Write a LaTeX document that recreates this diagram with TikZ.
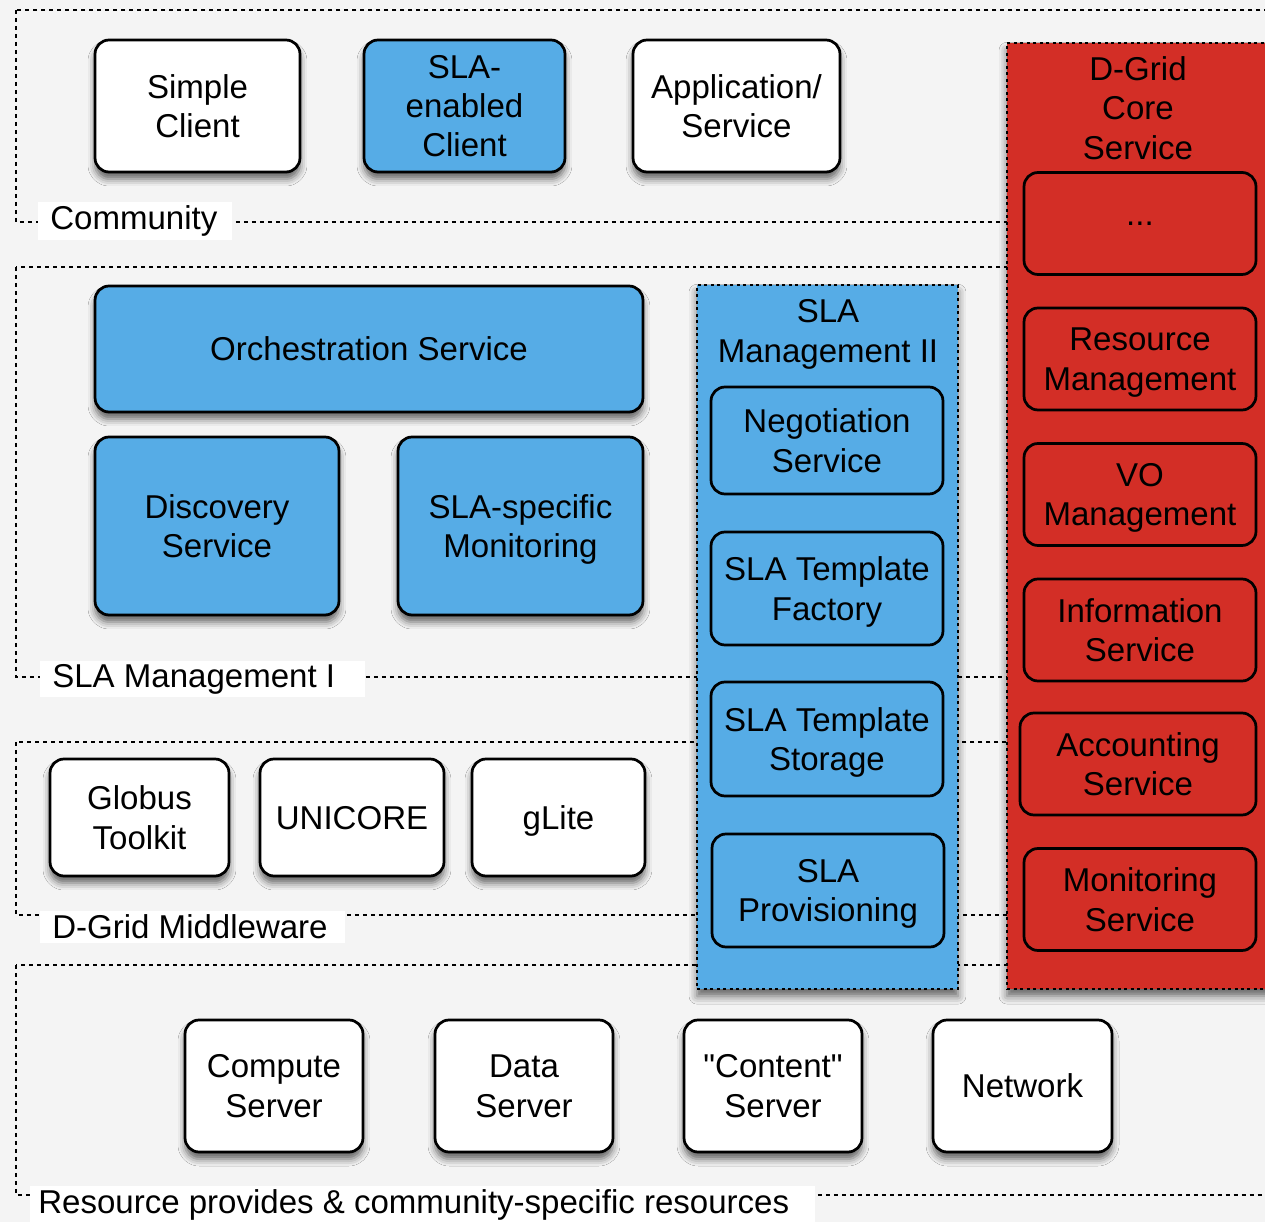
\documentclass[tikz,border=0pt]{standalone}
\usepackage{fontspec}
\setmainfont{Liberation Sans}
\usepackage{tikz}
\usetikzlibrary{shadows.blur}
\definecolor{slablue}{RGB}{86,172,230}
\definecolor{gridred}{RGB}{211,46,38}
\definecolor{bggray}{RGB}{244,244,244}

\tikzset{
    comp/.style={draw, rounded corners=0.28cm, line width=0.055cm, align=center,
        font=\fontsize{18.8}{22.4}\selectfont, inner sep=0pt, text depth=0pt},
    compshadow/.style={comp, blur shadow={shadow xshift=0pt, shadow yshift=-0.14cm,
        shadow blur radius=0.14cm, shadow opacity=60}},
    layer/.style={draw, line width=0.05cm, dash pattern=on 0.08cm off 0.08cm},
    layerlabel/.style={fill=white, anchor=west, inner xsep=0.24cm, inner ysep=0.07cm,
        font=\fontsize{18.8}{22.4}\selectfont},
    column/.style={draw, line width=0.05cm, dash pattern=on 0.06cm off 0.07cm,
        align=center, anchor=north, inner sep=0pt,
        blur shadow={shadow xshift=0pt, shadow yshift=-0.14cm,
        shadow blur radius=0.16cm, shadow opacity=60}},
    coltitle/.style={align=center, font=\fontsize{18.8}{22.4}\selectfont,
        inner sep=0pt, text depth=0pt}
}

\begin{document}
\begin{tikzpicture}[x=0.02cm, y=-0.02cm]
    % page and background
    \fill[bggray] (0,0) rectangle (1265,1222);
    \useasboundingbox (0,0) rectangle (1265,1222);

    % layers
    \draw[layer] (16,10) rectangle (1290,222);
    \draw[layer] (16,267) rectangle (1290,677);
    \draw[layer] (16,742) rectangle (1290,915);
    \draw[layer] (16,965) rectangle (1290,1195);

    \node[layerlabel] (lcommunity) at (38,221) {Community\hspace{0.06cm}\mbox{}};
    \node[layerlabel] (lslaone) at (40,679) {SLA Management I\hspace{0.35cm}\mbox{}};
    \node[layerlabel] (lmiddleware) at (40,927) {D-Grid Middleware\hspace{0.1cm}\mbox{}};
    \node[layerlabel, inner xsep=0.16cm] (lresource) at (30,1205)
        {Resource provides \& community-specific resources\hspace{0.36cm}\mbox{}};

    % community
    \node[compshadow, fill=white, minimum width=4.1cm, minimum height=2.64cm]
        (simpleclient) at (197.5,106) {Simple\\Client};
    \node[compshadow, fill=slablue, minimum width=4.02cm, minimum height=2.64cm]
        (slaclient) at (464.5,106) {SLA-\\enabled\\Client};
    \node[compshadow, fill=white, minimum width=4.14cm, minimum height=2.64cm]
        (application) at (736.5,106) {Application/\\Service};

    % SLA management I
    \node[compshadow, fill=slablue, minimum width=10.96cm, minimum height=2.52cm]
        (orchestration) at (369,349) {Orchestration Service};
    \node[compshadow, fill=slablue, minimum width=4.88cm, minimum height=3.56cm]
        (discovery) at (217,526) {Discovery\\Service};
    \node[compshadow, fill=slablue, minimum width=4.9cm, minimum height=3.56cm]
        (slamonitoring) at (520.5,526) {SLA-specific\\Monitoring};

    % D-Grid middleware
    \node[compshadow, fill=white, minimum width=3.58cm, minimum height=2.34cm]
        (globus) at (139.5,817.5) {Globus\\Toolkit};
    \node[compshadow, fill=white, minimum width=3.68cm, minimum height=2.34cm]
        (unicore) at (352,817.5) {UNICORE};
    \node[compshadow, fill=white, minimum width=3.46cm, minimum height=2.34cm]
        (glite) at (558.5,817.5) {gLite};

    % resources
    \node[compshadow, fill=white, minimum width=3.56cm, minimum height=2.64cm]
        (compute) at (274,1086) {Compute\\Server};
    \node[compshadow, fill=white, minimum width=3.56cm, minimum height=2.64cm]
        (data) at (524,1086) {Data\\Server};
    \node[compshadow, fill=white, minimum width=3.56cm, minimum height=2.64cm]
        (content) at (773,1086) {\textquotedbl Content\textquotedbl\\Server};
    \node[compshadow, fill=white, minimum width=3.58cm, minimum height=2.64cm]
        (network) at (1022.5,1086) {Network};

    % SLA management II column
    \node[column, fill=slablue, minimum width=5.22cm, minimum height=14.08cm]
        (slatwo) at (827.5,284) {};
    \node[coltitle] (slatwotitle) at (828,331) {SLA\\Management II};
    \node[comp, fill=slablue, minimum width=4.64cm, minimum height=2.14cm]
        (negotiation) at (827,440.5) {Negotiation\\Service};
    \node[comp, fill=slablue, minimum width=4.64cm, minimum height=2.26cm]
        (factory) at (827,588.5) {SLA Template\\Factory};
    \node[comp, fill=slablue, minimum width=4.64cm, minimum height=2.28cm]
        (storage) at (827,739) {SLA Template\\Storage};
    \node[comp, fill=slablue, minimum width=4.64cm, minimum height=2.26cm]
        (provisioning) at (828,890.5) {SLA\\Provisioning};

    % D-Grid core service column
    \node[column, fill=gridred, minimum width=5.46cm, minimum height=18.92cm]
        (core) at (1143.5,42) {};
    \node[coltitle] (coretitle) at (1138,108) {D-Grid\\Core\\Service};
    \node[comp, fill=gridred, minimum width=4.64cm, minimum height=2.04cm]
        (more) at (1140,223.5) {...};
    \node[comp, fill=gridred, minimum width=4.64cm, minimum height=2.04cm]
        (resmgmt) at (1140,359) {Resource\\Management};
    \node[comp, fill=gridred, minimum width=4.64cm, minimum height=2.04cm]
        (vomgmt) at (1140,494.5) {VO\\Management};
    \node[comp, fill=gridred, minimum width=4.64cm, minimum height=2.04cm]
        (information) at (1140,630) {Information\\Service};
    \node[comp, fill=gridred, minimum width=4.72cm, minimum height=2.04cm]
        (accounting) at (1138,764) {Accounting\\Service};
    \node[comp, fill=gridred, minimum width=4.64cm, minimum height=2.04cm]
        (monitoring) at (1140,899.5) {Monitoring\\Service};
\end{tikzpicture}
\end{document}
